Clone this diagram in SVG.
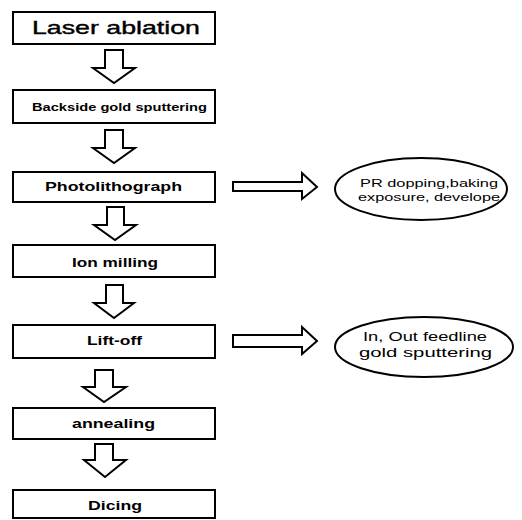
<svg xmlns="http://www.w3.org/2000/svg" width="522" height="520" viewBox="0 0 522 520">
<style>
.box{fill:#fff;stroke:#000;stroke-width:2}
.arr{fill:#fff;stroke:#000;stroke-width:2;stroke-linejoin:miter}
.ell{fill:#fff;stroke:#000;stroke-width:2}
text{font-family:"Liberation Sans",Arial,sans-serif;fill:#000}
.b{font-weight:bold}
.n{font-weight:normal}
</style>
<rect width="522" height="520" fill="#fff"/>
<g id="connectors">
<polygon class="arr" points="105,50 123,50 123,68 135,68 114,83 93,68 105,68"/>
<polygon class="arr" points="105,130 123,130 123,148 135,148 114,163 93,148 105,148"/>
<polygon class="arr" points="107,207 124,207 124,225 136,225 115,240 94,225 107,225"/>
<polygon class="arr" points="106,285 123,285 123,303 134,303 114,318 94,303 106,303"/>
<polygon class="arr" points="95,370 113,370 113,387 126,387 104,402 83,387 95,387"/>
<polygon class="arr" points="95,444 113,444 113,460 126,460 105,477 84,460 95,460"/>
<polygon class="arr" points="233,182 302,182 302,173 317,187 302,199 302,191 233,191"/>
<polygon class="arr" points="233,335 302,335 302,327 317,341 302,354 302,347 233,347"/>
</g>
<g id="n1"><rect class="box" x="13" y="12" width="202" height="32"/><text class="n" x="32" y="34" font-size="19" stroke="#000" stroke-width="0.4" textLength="168" lengthAdjust="spacingAndGlyphs">Laser ablation</text></g>
<g id="n2"><rect class="box" x="13" y="90" width="202" height="33"/><text class="b" x="32" y="111" font-size="10" textLength="175" lengthAdjust="spacingAndGlyphs">Backside gold sputtering</text></g>
<g id="n3"><rect class="box" x="13" y="172" width="202" height="30"/><text class="b" x="45" y="191" font-size="13" textLength="137" lengthAdjust="spacingAndGlyphs">Photolithograph</text></g>
<g id="n4"><rect class="box" x="13" y="245" width="202" height="32"/><text class="b" x="72" y="267" font-size="12" textLength="86" lengthAdjust="spacingAndGlyphs">Ion milling</text></g>
<g id="n5"><rect class="box" x="13" y="325" width="202" height="33"/><text class="b" x="87" y="345" font-size="12" textLength="55" lengthAdjust="spacingAndGlyphs">Lift-off</text></g>
<g id="n6"><rect class="box" x="13" y="408" width="202" height="31"/><text class="b" x="72" y="428" font-size="13" textLength="83" lengthAdjust="spacingAndGlyphs">annealing</text></g>
<g id="n7"><rect class="box" x="13" y="490" width="202" height="28"/><text class="b" x="88" y="510" font-size="13" textLength="54" lengthAdjust="spacingAndGlyphs">Dicing</text></g>
<g id="e1"><ellipse class="ell" cx="421" cy="189" rx="86" ry="31"/><text class="n" x="360" y="187" font-size="11" textLength="138" lengthAdjust="spacingAndGlyphs">PR dopping,baking</text><text class="n" x="358" y="201" font-size="11" textLength="142" lengthAdjust="spacingAndGlyphs">exposure, develope</text></g>
<g id="e2"><ellipse class="ell" cx="424" cy="347" rx="89" ry="30"/><text class="n" x="363" y="341" font-size="13" textLength="124" lengthAdjust="spacingAndGlyphs">In, Out feedline</text><text class="n" x="359" y="357" font-size="13" textLength="133" lengthAdjust="spacingAndGlyphs">gold sputtering</text></g>
</svg>
